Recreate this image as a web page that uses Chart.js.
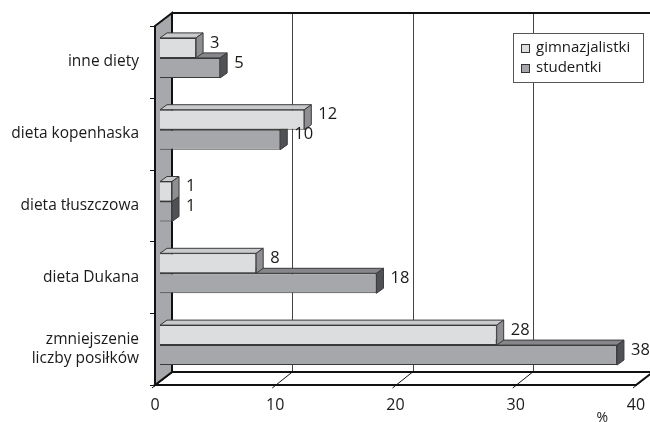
<!DOCTYPE html>
<html>
<head>
<meta charset="utf-8">
<script src="https://cdn.jsdelivr.net/npm/chart.js@4.4.0/dist/chart.umd.min.js"></script>
<style>
  html, body { margin: 0; padding: 0; background: #fff; }
  canvas { display: block; }
</style>
</head>
<body>
<canvas id="dietChart" width="650" height="422"></canvas>
<script>
// Data
const categories = ['inne diety', 'dieta kopenhaska', 'dieta tłuszczowa', 'dieta Dukana', ['zmniejszenie', 'liczby posiłków']];
const gimnazjalistki = [3, 12, 1, 8, 28];
const studentki = [5, 10, 1, 18, 38];
const xTicks = [0, 10, 20, 30, 40];

const FONT = '"Open Sans", "DejaVu Sans", sans-serif';

// 3D look
const wallDepth = { x: 17, y: -13 };
const barShift = { x: 5, y: -4 };
const barDepth = { x: 7, y: -5 };
const faceColors = [
    { front: '#dcdddf', top: '#c9cacc', side: '#8e8f92' },
    { front: '#a6a7aa', top: '#86878a', side: '#505154' }
];

function poly(ctx, pts, fill, stroke, lw) {
    ctx.beginPath();
    ctx.moveTo(pts[0][0], pts[0][1]);
    for (let i = 1; i < pts.length; i++) ctx.lineTo(pts[i][0], pts[i][1]);
    ctx.closePath();
    if (fill) { ctx.fillStyle = fill; ctx.fill(); }
    if (stroke) { ctx.strokeStyle = stroke; ctx.lineWidth = lw || 1; ctx.stroke(); }
}

const box3d = {
    id: 'box3d',
    beforeDatasetsDraw(chart) {
        const ctx = chart.ctx;
        const a = chart.chartArea;
        const xs = chart.scales.x;
        const ys = chart.scales.y;
        const dx = wallDepth.x, dy = wallDepth.y;

        ctx.save();
        // back grid lines
        ctx.strokeStyle = '#444';
        ctx.lineWidth = 1;
        xTicks.slice(1, -1).forEach(v => {
            const px = Math.round(xs.getPixelForValue(v) + dx) + 0.5;
            ctx.beginPath();
            ctx.moveTo(px, a.top + dy);
            ctx.lineTo(px, a.bottom + dy);
            ctx.stroke();
        });
        // top frame line
        ctx.lineWidth = 2;
        ctx.strokeStyle = '#111';
        ctx.beginPath();
        ctx.moveTo(a.left + dx, a.top + dy);
        ctx.lineTo(a.right + dx, a.top + dy);
        ctx.lineTo(a.right + dx, a.bottom + dy);
        ctx.stroke();

        // floor
        poly(ctx, [[a.left, a.bottom], [a.right, a.bottom], [a.right + dx, a.bottom + dy], [a.left + dx, a.bottom + dy]], null, '#111', 2);
        ctx.lineWidth = 1;
        xTicks.forEach(v => {
            const px = xs.getPixelForValue(v);
            ctx.beginPath();
            ctx.moveTo(px + dx, a.bottom + dy);
            ctx.lineTo(px - 3, a.bottom + 3);
            ctx.stroke();
        });

        // left wall
        poly(ctx, [[a.left, a.top], [a.left + dx, a.top + dy], [a.left + dx, a.bottom + dy], [a.left, a.bottom]], '#a7a8ab', '#111', 2);

        // wall tick marks at category borders
        ctx.lineWidth = 1;
        const half = (ys.getPixelForTick(1) - ys.getPixelForTick(0)) / 2;
        for (let i = 0; i <= categories.length; i++) {
            const py = Math.round((i < categories.length ? ys.getPixelForTick(i) : ys.getPixelForTick(i - 1) + 2 * half) - half) + 0.5;
            ctx.beginPath();
            ctx.moveTo(a.left - 5, py);
            ctx.lineTo(a.left, py);
            ctx.stroke();
        }
        ctx.restore();

        // bar top and side faces (behind the front faces), studentki first
        ctx.save();
        ctx.translate(barShift.x, barShift.y);
        for (let d = chart.data.datasets.length - 1; d >= 0; d--) {
            const meta = chart.getDatasetMeta(d);
            const c = faceColors[d];
            meta.data.forEach(el => {
                const x0 = el.base, x1 = el.x;
                const y0 = el.y - el.height / 2, y1 = el.y + el.height / 2;
                const bx = barDepth.x, by = barDepth.y;
                poly(ctx, [[x0, y0], [x1, y0], [x1 + bx, y0 + by], [x0 + bx, y0 + by]], c.top, '#3a3a3a', 1);
                poly(ctx, [[x1, y0], [x1 + bx, y0 + by], [x1 + bx, y1 + by], [x1, y1]], c.side, '#3a3a3a', 1);
            });
        }
        // keep the translate for the library's own front faces
    },
    afterDatasetsDraw(chart) {
        const ctx = chart.ctx;
        ctx.restore();
        ctx.save();
        ctx.fillStyle = '#1a1a1a';
        ctx.font = '16.5px ' + FONT;
        ctx.textAlign = 'left';
        ctx.textBaseline = 'middle';
        chart.data.datasets.forEach((ds, d) => {
            chart.getDatasetMeta(d).data.forEach((el, i) => {
                ctx.fillText(String(ds.data[i]), el.x + barShift.x + barDepth.x + 7, el.y + barShift.y - 5);
            });
        });
        ctx.restore();
    },
    afterDraw(chart) {
        const ctx = chart.ctx;
        const a = chart.chartArea;
        const xs = chart.scales.x;
        ctx.save();
        // legend
        const lw = 130, lh = 49;
        const lx = a.right + 7 - lw, ly = a.top + 7;
        ctx.fillStyle = '#fff';
        ctx.fillRect(lx, ly, lw, lh);
        ctx.strokeStyle = '#555';
        ctx.lineWidth = 1;
        ctx.strokeRect(lx + 0.5, ly + 0.5, lw, lh);
        ctx.font = '15px ' + FONT;
        ctx.textBaseline = 'middle';
        chart.data.datasets.forEach((ds, d) => {
            const ry = ly + 15 + d * 20;
            ctx.fillStyle = faceColors[d].front;
            ctx.fillRect(lx + 8, ry - 4, 8, 8);
            ctx.strokeStyle = '#333';
            ctx.strokeRect(lx + 8.5, ry - 3.5, 8, 8);
            ctx.fillStyle = '#1a1a1a';
            ctx.fillText(ds.label, lx + 23, ry);
        });
        // unit
        ctx.font = '14px ' + FONT;
        ctx.textAlign = 'center';
        ctx.fillText('%', xs.getPixelForValue(37.2), a.bottom + 33);
        ctx.restore();
    }
};

new Chart(document.getElementById('dietChart'), {
    type: 'bar',
    data: {
        labels: categories,
        datasets: [
            {
                label: 'gimnazjalistki',
                data: gimnazjalistki,
                backgroundColor: faceColors[0].front,
                borderColor: '#3a3a3a',
                borderWidth: 1,
                categoryPercentage: 0.557,
                barPercentage: 1
            },
            {
                label: 'studentki',
                data: studentki,
                backgroundColor: faceColors[1].front,
                borderColor: '#3a3a3a',
                borderWidth: 1,
                categoryPercentage: 0.557,
                barPercentage: 1
            }
        ]
    },
    options: {
        indexAxis: 'y',
        responsive: false,
        animation: false,
        devicePixelRatio: 1,
        layout: { padding: { top: 26, right: 14, left: 0, bottom: 0 } },
        plugins: {
            legend: { display: false },
            tooltip: { enabled: false }
        },
        scales: {
            x: {
                min: 0,
                max: 40,
                afterBuildTicks: scale => { scale.ticks = xTicks.map(v => ({ value: v })); },
                afterFit: scale => {
                    scale.height = 37;
                    scale.paddingLeft = 0;
                    scale.paddingRight = 0;
                },
                grid: { display: false, drawTicks: false },
                border: { display: false },
                ticks: { color: '#1a1a1a', font: { family: FONT, size: 16 }, padding: 11, maxRotation: 0 }
            },
            y: {
                afterFit: scale => {
                    scale.width = 155;
                    scale.paddingTop = 0;
                    scale.paddingBottom = 0;
                },
                grid: { display: false, drawTicks: false },
                border: { display: false },
                ticks: { color: '#1a1a1a', font: { family: FONT, size: 15.5 }, padding: 16 }
            }
        }
    },
    plugins: [box3d]
});
</script>
</body>
</html>
